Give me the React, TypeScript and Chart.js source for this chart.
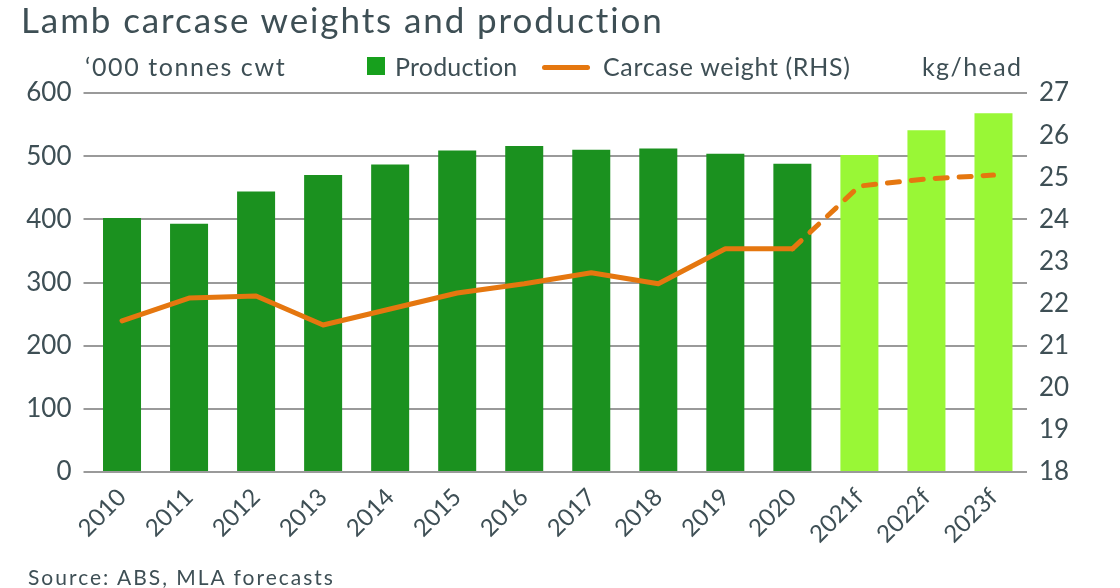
import React, { useEffect, useRef } from "react";
import { Chart, registerables } from "chart.js";

Chart.register(...registerables);

const categories = ["2010", "2011", "2012", "2013", "2014", "2015", "2016", "2017", "2018", "2019", "2020", "2021f", "2022f", "2023f"];
const production = [402, 393, 444, 470, 487, 509, 516, 510, 512, 504, 488, 502, 541, 568];
const carcaseWeight = [21.59, 22.13, 22.18, 21.49, 21.87, 22.25, 22.47, 22.73, 22.47, 23.3, 23.3, 24.79, 24.96, 25.05];
const forecastStart = 11;
const dashFromIndex = 10;
const leftTicks = [0, 100, 200, 300, 400, 500, 600];
const rightTicks = [18, 19, 20, 21, 22, 23, 24, 25, 26, 27];

const TEXT = "#3e4f55";
const DARK_GREEN = "#1b911f";
const LEGEND_GREEN = "#17a01d";
const LIGHT_GREEN = "#99f736";
const ORANGE = "#e5770f";
const FONT = "Lato, 'Open Sans', sans-serif";

export default function App() {
  const ref = useRef<HTMLCanvasElement | null>(null);

  useEffect(() => {
    if (!ref.current) return;
    const chart = new Chart(ref.current, {
      data: {
        labels: categories,
        datasets: [
          {
            type: "line",
            label: "Carcase weight (RHS)",
            data: carcaseWeight,
            yAxisID: "y1",
            borderColor: ORANGE,
            borderWidth: 5,
            pointRadius: 0,
            tension: 0,
            borderCapStyle: "round",
            borderJoinStyle: "round",
            order: 0,
            segment: {
              borderDash: (ctx: any) => (ctx.p0DataIndex >= dashFromIndex ? [12, 12] : undefined),
            },
          } as any,
          {
            type: "bar",
            label: "Production",
            data: production,
            yAxisID: "y",
            backgroundColor: production.map((_, i) => (i >= forecastStart ? LIGHT_GREEN : DARK_GREEN)),
            barPercentage: 0.567,
            categoryPercentage: 1,
            order: 1,
          } as any,
        ],
      },
      options: {
        animation: false,
        responsive: false,
        maintainAspectRatio: false,
        layout: { padding: { top: 93, left: 0, right: 0, bottom: 0 } },
        plugins: { legend: { display: false }, tooltip: { enabled: false }, title: { display: false } },
        scales: {
          x: {
            grid: { display: false },
            border: { display: false },
            ticks: {
              color: TEXT,
              font: { family: FONT, size: 24 },
              maxRotation: 45,
              minRotation: 45,
              padding: 3,
            },
            afterFit: (s: any) => {
              s.height = 116;
            },
          },
          y: {
            position: "left",
            min: 0,
            max: 600,
            afterBuildTicks: (s: any) => {
              s.ticks = leftTicks.map((v) => ({ value: v }));
            },
            grid: { color: "#9a9a9a", lineWidth: 2, tickLength: 5, drawTicks: true },
            border: { display: false },
            ticks: { color: TEXT, font: { family: FONT, size: 26 }, padding: 12 },
            afterFit: (s: any) => {
              s.width = 88.5;
            },
          },
          y1: {
            position: "right",
            min: 18,
            max: 27,
            afterBuildTicks: (s: any) => {
              s.ticks = rightTicks.map((v) => ({ value: v }));
            },
            grid: { display: false, drawOnChartArea: false },
            border: { display: false },
            ticks: { color: TEXT, font: { family: FONT, size: 26 }, padding: 4 },
            afterFit: (s: any) => {
              s.width = 93;
            },
          },
        },
      } as any,
    });
    return () => chart.destroy();
  }, []);

  const abs = (extra: React.CSSProperties): React.CSSProperties => ({
    position: "absolute",
    whiteSpace: "nowrap",
    color: TEXT,
    fontFamily: FONT,
    lineHeight: 1,
    ...extra,
  });

  return (
    <div style={{ position: "fixed", left: 0, top: 0, width: 1120, height: 588, background: "#fff", overflow: "hidden" }}>
      <canvas ref={ref} width={1120} height={588} style={{ position: "absolute", left: 0, top: 0, width: 1120, height: 588 }} />
      <div style={abs({ left: 21, top: 2, fontSize: 35, letterSpacing: 1.9 })}>Lamb carcase weights and production</div>
      <div style={abs({ left: 85, top: 54, fontSize: 25, letterSpacing: 1.6 })}>‘000 tonnes cwt</div>
      <div style={abs({ left: 367, top: 57, width: 18, height: 18, background: LEGEND_GREEN })} />
      <div style={abs({ left: 395, top: 54, fontSize: 25, letterSpacing: 0.2 })}>Production</div>
      <div style={abs({ left: 542, top: 65, width: 48, height: 5, background: ORANGE, borderRadius: 2.5 })} />
      <div style={abs({ left: 603, top: 54, fontSize: 25, letterSpacing: 0.65 })}>Carcase weight (RHS)</div>
      <div style={abs({ left: 922, top: 54, fontSize: 25, letterSpacing: 1.4 })}>kg/head</div>
      <div style={abs({ left: 28, top: 566, fontSize: 21, letterSpacing: 2 })}>Source: ABS, MLA forecasts</div>
    </div>
  );
}
